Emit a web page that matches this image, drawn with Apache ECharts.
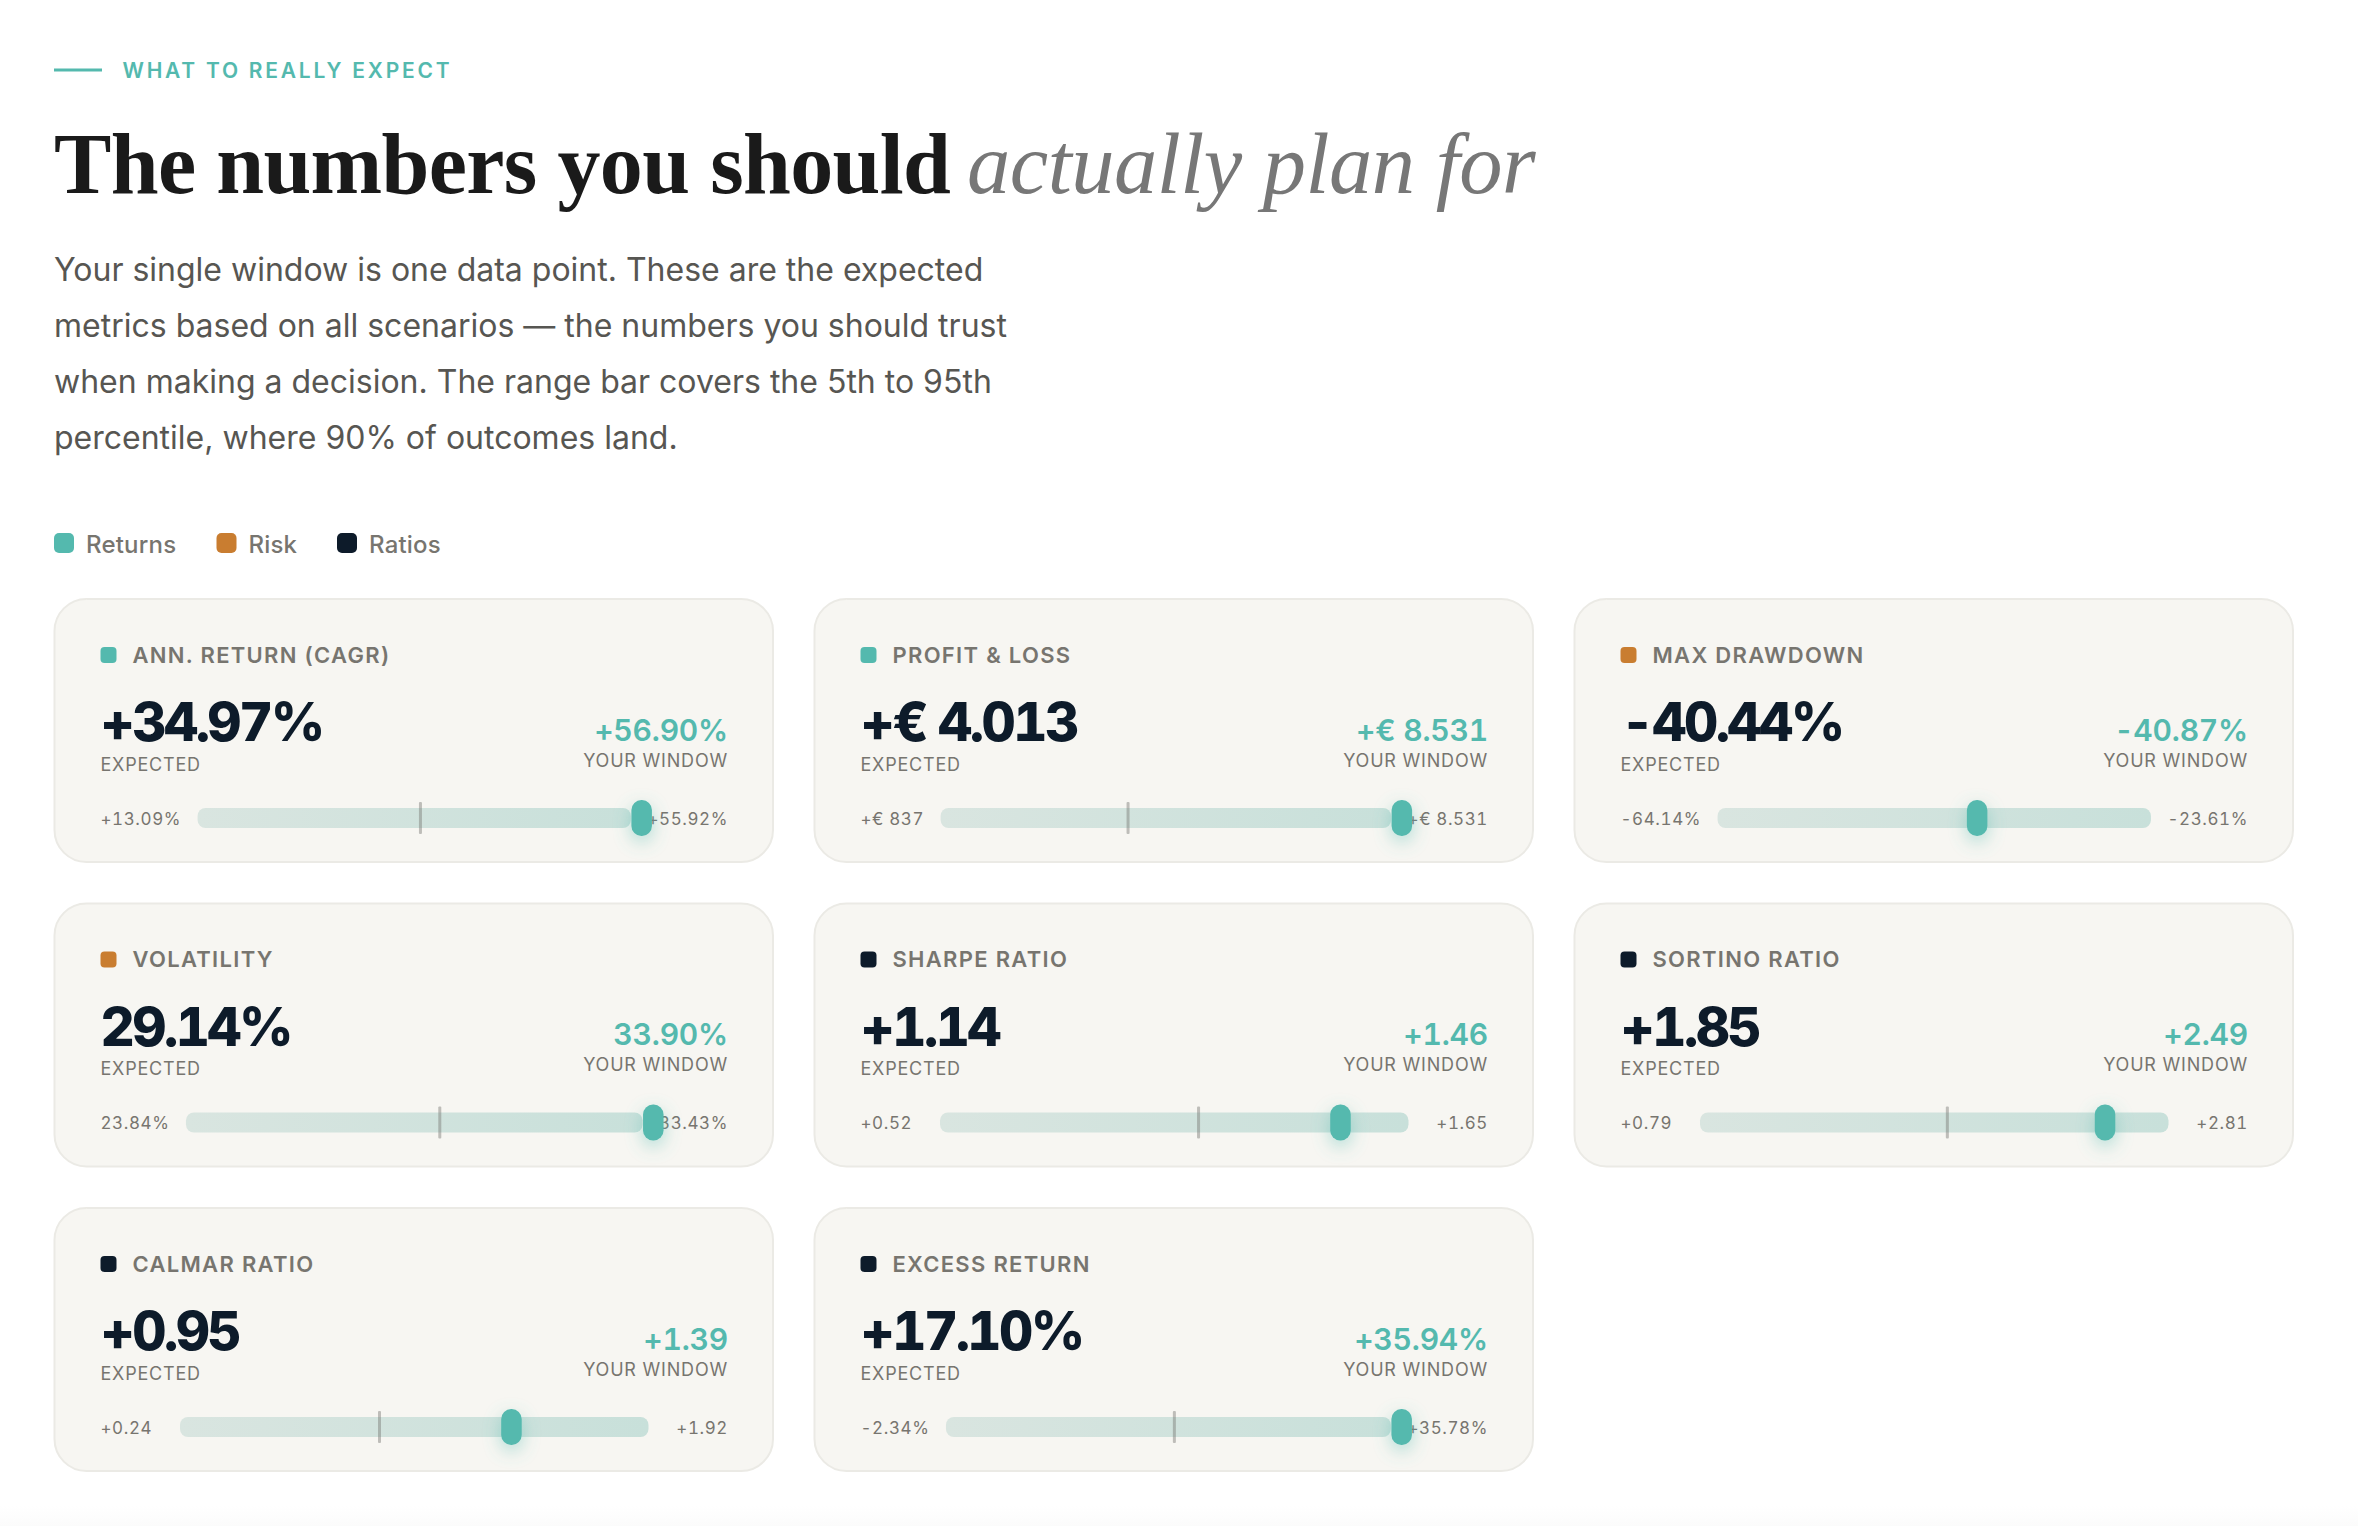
<!DOCTYPE html>
<html>
<head>
<meta charset="utf-8">
<title>The numbers you should actually plan for</title>
<script src="https://cdn.jsdelivr.net/npm/echarts@6/dist/echarts.min.js"></script>
<style>
  html, body { margin: 0; padding: 0; background: #ffffff; }
  #chart { width: 2358px; height: 1526px; }
</style>
</head>
<body>
<div id="chart"></div>
<script>
// metric cards, in reading order
const metricNames = ['ANN. RETURN (CAGR)', 'PROFIT & LOSS', 'MAX DRAWDOWN', 'VOLATILITY', 'SHARPE RATIO', 'SORTINO RATIO', 'CALMAR RATIO', 'EXCESS RETURN'];
const metricGroups = ['Returns', 'Returns', 'Risk', 'Risk', 'Ratios', 'Ratios', 'Ratios', 'Ratios'];
const metricFormats = ['pct', 'eur', 'pct', 'vol', 'num', 'num', 'num', 'pct'];
const expectedValues = [34.97, 4013, -40.44, 29.14, 1.14, 1.85, 0.95, 17.10];
const windowValues = [56.90, 8531, -40.87, 33.90, 1.46, 2.49, 1.39, 35.94];
const lowValues = [13.09, 837, -64.14, 23.84, 0.52, 0.79, 0.24, -2.34];
const highValues = [55.92, 8531, -23.61, 33.43, 1.65, 2.81, 1.92, 35.78];

const legendNames = ['Returns', 'Risk', 'Ratios'];
const introLines = [
  'Your single window is one data point. These are the expected',
  'metrics based on all scenarios \u2014 the numbers you should trust',
  'when making a decision. The range bar covers the 5th to 95th',
  'percentile, where 90% of outcomes land.'
];

const TEAL = '#54b9ae';
const GROUP_COLORS = { Returns: '#54b9ae', Risk: '#c97d30', Ratios: '#0d1b2a' };
const MUTED = '#77756f';
const SANS = 'Inter, sans-serif';

// letter spacing per font size, applied to the svg text after rendering
const SPACING = {
  '21px': '2.75px', '24px': '0.2px', '22px': '1.3px', '53px': '-2.5px', '30px': '-0.2px',
  '18px': '0.8px', '17px': '0.6px', '86px': '-0.65px', '86.5px': '-0.5px'
};
const TABULAR = ['53px', '30px', '17px'];

function fmt(v, kind) {
  const sign = v < 0 ? '-' : '+';
  const a = Math.abs(v);
  if (kind === 'pct') return sign + a.toFixed(2) + '%';
  if (kind === 'vol') return a.toFixed(2) + '%';
  if (kind === 'eur') return sign + '\u20ac ' + String(a).replace(/\B(?=(\d{3})+$)/g, '.');
  return sign + a.toFixed(2);
}

// canvas can't measure tabular digits, so use a hidden span
const measureEl = document.createElement('span');
measureEl.style.cssText = 'position:absolute;visibility:hidden;white-space:pre;font:400 17px ' + SANS +
  ';letter-spacing:' + SPACING['17px'] + ';font-variant-numeric:tabular-nums';
document.body.appendChild(measureEl);
function labelWidth(str) {
  measureEl.textContent = str;
  return measureEl.getBoundingClientRect().width;
}

function txt(x, y, text, font, fill, align) {
  return {
    type: 'text', x: x, y: y, silent: true,
    style: { text: text, font: font, fill: fill, textAlign: align || 'left', textVerticalAlign: 'middle' }
  };
}

function box(x, y, w, h, r, fill) {
  return {
    type: 'rect', silent: true,
    shape: { x: x, y: y, width: w, height: h, r: r },
    style: { fill: fill }
  };
}

const CARD_W = 718.5, CARD_H = 263, COL_STEP = 760, ROW_STEP = 304.5, CARD_X = 54.5, CARD_Y = 599, PAD = 46;
const LABEL_MIN = 63, LABEL_GAP = 16.5;

const graphics = [];
const grids = [], xAxes = [], yAxes = [], series = [];

// header
graphics.push(box(54, 68.5, 48, 3, 0, TEAL));
graphics.push(txt(122.5, 70, 'WHAT TO REALLY EXPECT', '600 21px ' + SANS, TEAL));
graphics.push(txt(54, 164, 'The numbers you should', '700 86px "Liberation Serif", serif', '#1a1a1a'));
graphics.push(txt(967, 164, 'actually plan for', 'italic 400 86.5px "Liberation Serif", serif', '#777777'));
introLines.forEach(function (line, i) {
  graphics.push(txt(54, 269 + i * 56, line, '400 32px ' + SANS, '#575652'));
});

// legend
const legendSquares = [54, 216.5, 337];
legendNames.forEach(function (name, i) {
  graphics.push(box(legendSquares[i], 533, 20, 20, 5, GROUP_COLORS[name]));
  graphics.push(txt(legendSquares[i] + 32, 544, name, '500 24px ' + SANS, MUTED));
});

// faint fade at the foot of the page
graphics.push(box(0, 1506, 2358, 20, 0, new echarts.graphic.LinearGradient(0, 0, 0, 1, [
  { offset: 0, color: '#ffffff' },
  { offset: 1, color: '#fbfbfb' }
])));

metricNames.forEach(function (name, i) {
  const cx = CARD_X + (i % 3) * COL_STEP;
  const cy = CARD_Y + Math.floor(i / 3) * ROW_STEP;
  const left = cx + PAD;
  const right = cx + CARD_W - 45;
  const kind = metricFormats[i];
  const lowText = fmt(lowValues[i], kind);
  const highText = fmt(highValues[i], kind);

  graphics.push({
    type: 'rect', silent: true,
    shape: { x: cx, y: cy, width: CARD_W, height: CARD_H, r: 32 },
    style: { fill: '#f7f6f2', stroke: '#ebeae5', lineWidth: 2 }
  });
  graphics.push(box(left, cy + 48, 16, 16, 4, GROUP_COLORS[metricGroups[i]]));
  graphics.push(txt(cx + 78, cy + 55.5, name, '600 22px ' + SANS, MUTED));
  graphics.push(txt(left, cy + 123, fmt(expectedValues[i], kind), '800 53px ' + SANS, '#0d1b2a'));
  graphics.push(txt(left, cy + 165, 'EXPECTED', '400 18px ' + SANS, MUTED));
  graphics.push(txt(right, cy + 130.5, fmt(windowValues[i], kind), '600 30px ' + SANS, TEAL, 'right'));
  graphics.push(txt(right, cy + 161, 'YOUR WINDOW', '400 18px ' + SANS, MUTED, 'right'));
  graphics.push(txt(left, cy + 219.5, lowText, '400 17px ' + SANS, MUTED));
  graphics.push(txt(right, cy + 219.5, highText, '400 17px ' + SANS, MUTED, 'right'));

  // range track sits between the two end labels, like a flex row
  const trackLeft = left + Math.max(labelWidth(lowText), LABEL_MIN) + LABEL_GAP;
  const trackRight = right - Math.max(labelWidth(highText), LABEL_MIN) - LABEL_GAP;

  grids.push({ left: trackLeft, width: trackRight - trackLeft, top: cy + 201, height: 36 });
  xAxes.push({ type: 'value', gridIndex: i, min: lowValues[i], max: highValues[i], show: false });
  yAxes.push({ type: 'value', gridIndex: i, min: 0, max: 1, show: false });

  series.push({
    type: 'custom',
    name: name,
    coordinateSystem: 'cartesian2d',
    xAxisIndex: i,
    yAxisIndex: i,
    silent: true,
    clip: false,
    // the thumb is pinned to the end of the range when your window is outside it
    data: [[lowValues[i], highValues[i], expectedValues[i], Math.min(windowValues[i], highValues[i])]],
    renderItem: function (params, api) {
      const x0 = api.coord([api.value(0), 0.5])[0];
      const x1 = api.coord([api.value(1), 0.5])[0];
      const mid = api.coord([api.value(0), 0.5])[1];
      const tickX = api.coord([api.value(2), 0.5])[0];
      const thumbX = api.coord([api.value(3), 0.5])[0];
      return {
        type: 'group',
        children: [
          {
            type: 'rect',
            shape: { x: x0, y: mid - 10, width: x1 - x0, height: 20, r: 8 },
            style: {
              fill: new echarts.graphic.LinearGradient(0, 0, 1, 0, [
                { offset: 0, color: '#d9e5e0' },
                { offset: 1, color: '#c8e0da' }
              ])
            }
          },
          {
            type: 'rect',
            shape: { x: tickX, y: mid - 16, width: 3, height: 32, r: 1 },
            style: { fill: 'rgba(120,120,115,0.45)' }
          },
          {
            type: 'rect',
            shape: { x: thumbX + 0.5, y: mid - 18, width: 20.5, height: 36, r: 10 },
            style: {
              fill: TEAL,
              shadowBlur: 18,
              shadowOffsetY: 6,
              shadowColor: 'rgba(84,185,174,0.45)'
            }
          }
        ]
      };
    }
  });
});

const chart = echarts.init(document.getElementById('chart'), null, { renderer: 'svg' });

function applySpacing() {
  document.querySelectorAll('#chart svg text').forEach(function (el) {
    const size = el.style.fontSize;
    if (SPACING[size]) el.style.letterSpacing = SPACING[size];
    if (TABULAR.indexOf(size) >= 0) el.style.fontVariantNumeric = 'tabular-nums';
  });
}

chart.on('finished', applySpacing);
chart.setOption({
  animation: false,
  backgroundColor: '#ffffff',
  graphic: { elements: graphics },
  grid: grids,
  xAxis: xAxes,
  yAxis: yAxes,
  series: series
});
applySpacing();
</script>
</body>
</html>
